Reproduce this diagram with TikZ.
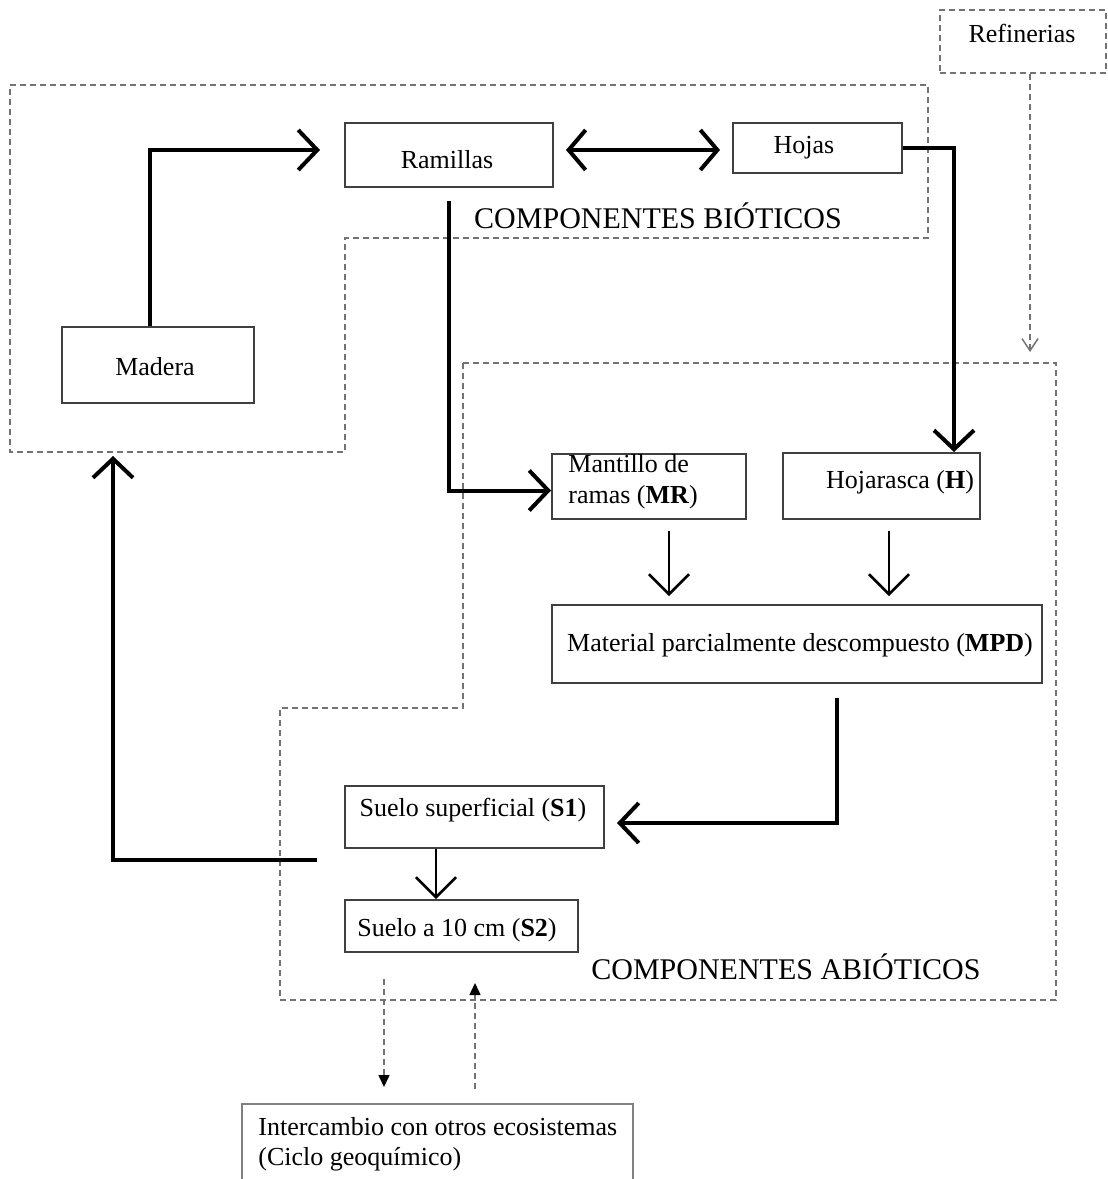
\documentclass[tikz,border=0pt]{standalone}
\usepackage{fontspec}
\setmainfont{Liberation Serif}
\usetikzlibrary{arrows.meta,calc,fit}
\begin{document}
\begin{tikzpicture}[x=0.5pt,y=-0.5pt,
  box/.style={draw=black!75, line width=1pt, inner sep=0pt},
  zone/.style={draw=black!55, line width=0.75pt, dash pattern=on 3pt off 2pt},
  txt/.style={inner sep=0pt, font=\fontsize{13}{15.5}\selectfont},
  big/.style={inner sep=0pt, font=\fontsize{15}{18}\selectfont},
  flow/.style={line width=2pt, -{Straight Barb[length=9.5pt,width=20pt]}},
  thinflow/.style={line width=1.3pt, -{Straight Barb[length=10pt,width=20pt]}},
  bothflow/.style={line width=2pt, {Straight Barb[length=8.5pt,width=20pt]}-{Straight Barb[length=8.5pt,width=20pt]}},
  dflow/.style={draw=black!55, line width=0.75pt, dash pattern=on 3pt off 2pt, -{Triangle[length=6pt,width=5.5pt,color=black]}},
  refflow/.style={draw=black!55, line width=0.75pt, dash pattern=on 3pt off 2pt, -{Straight Barb[length=6pt,width=8pt]}}]
\useasboundingbox (0,0) rectangle (1108,1179);
\clip (0,0) rectangle (1108,1179);

% zones
\draw[zone] (10,85) -- (928,85) -- (928,238) -- (345,238) -- (345,452) -- (10,452) -- cycle;
\draw[zone] (463,363) -- (1056,363) -- (1056,1000) -- (280,1000) -- (280,708) -- (463,708) -- cycle;

% boxes
\node[box, fit={(62,327) (254,403)}] (madera) {};
\node[box, fit={(345,123) (553,187)}] (ramillas) {};
\node[box, fit={(733,123) (902,173)}] (hojas) {};
\node[box, zone, fit={(940,10) (1106,73)}] (ref) {};
\node[box, fit={(552,454) (746,519)}] (mr) {};
\node[box, fit={(783,453) (980,519)}] (h) {};
\node[box, fit={(552,605) (1042,683)}] (mpd) {};
\node[box, fit={(345,786) (604,848)}] (s1) {};
\node[box, fit={(345,900) (578,952)}] (s2) {};
\node[box, draw=black!50, fit={(242,1104) (633,1230)}] (ic) {};

% texts
\node[txt] (maderat) at (155,367) {Madera};
\node[txt] (ramillast) at (447,160) {Ramillas};
\node[txt] (hojast) at (804,148) {Hojas};
\node[txt] (reft) at (1022,33) {Refinerias};
\node[big] (biot) at (658,216) {COMPONENTES BIÓTICOS};
\node[txt, anchor=west, align=left] (mrt) at (568,482) {Mantillo de\\ramas (\textbf{MR})};
\node[txt] (ht) at (900,482) {Hojarasca (\textbf{H})};
\node[txt] (mpdt) at (800,645) {Material parcialmente descompuesto (\textbf{MPD})};
\node[txt] (s1t) at (473,810) {Suelo superficial (\textbf{S1})};
\node[txt] (s2t) at (457,930) {Suelo a 10 cm (\textbf{S2})};
\node[big] (abiot) at (786,967) {COMPONENTES ABIÓTICOS};
\node[txt, anchor=north west, align=left, font=\fontsize{13}{15}\selectfont] (ict) at (258,1117) {Intercambio con otros ecosistemas\\(Ciclo geoquímico)};

% connectors
\draw[flow] ($(madera.north)+(-8,0)$) |- ($(ramillas.west)+(-24,-5)$);
\draw[bothflow] ($(ramillas.east |- hojas.west)+(12,2)$) -- ($(hojas.west)+(-12,2)$);
\draw[flow] (hojas.east) -| ($(h.north east)+(-27,0)$);
\draw[flow] ($(ramillas.south)+(0,13)$) |- ($(mr.west)+(0,4)$);
\draw[thinflow] ($(mr.south)+(20,11)$) -- ($(mr.south |- mpd.north)+(20,-8)$);
\draw[thinflow] ($(h.south)+(7.5,11)$) -- ($(h.south |- mpd.north)+(7.5,-8)$);
\draw[flow] ($(mpd.south)+(40,14)$) |- ($(s1.east)+(12,6)$);
\draw[flow] ($(s1.west)+(-27,43)$) -| ($(madera.south)+(-45,52)$);
\draw[thinflow] ($(s1.south)+(-38.5,0)$) -- ($(s1.south |- s2.north)+(-38.5,0)$);
\draw[dflow] ($(s2.south)+(-77.5,26)$) -- ($(s2.south |- ic.north)+(-77.5,-16)$);
\draw[dflow] ($(s2.south |- ic.north)+(13.5,-14)$) -- ($(s2.south)+(13.5,30)$);
\coordinate (refend) at (1030,352);
\draw[refflow] (ref.south -| refend) -- (refend);
\end{tikzpicture}
\end{document}
